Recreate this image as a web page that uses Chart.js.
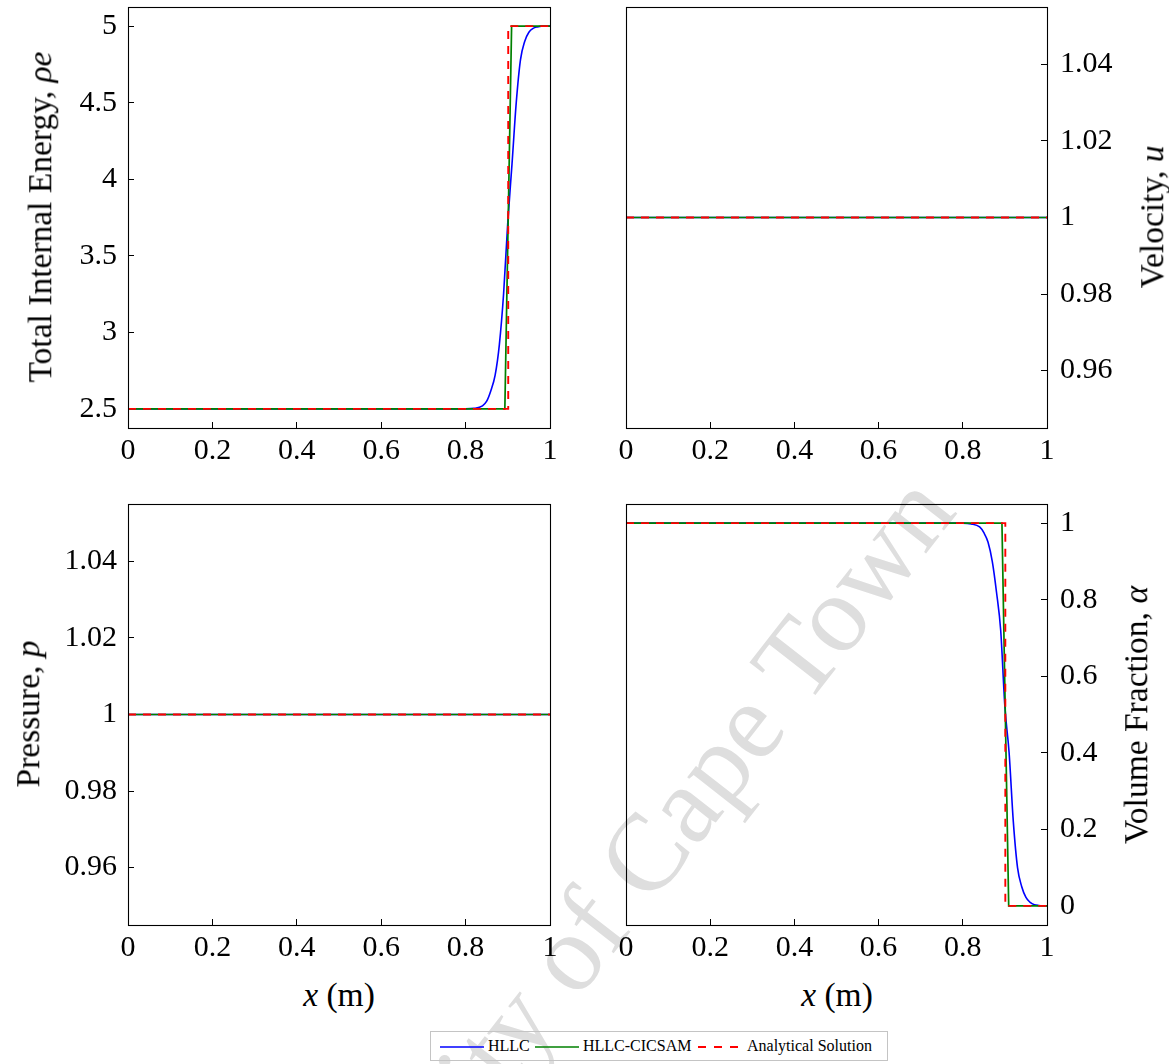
<!DOCTYPE html>
<html>
<head>
<meta charset="utf-8">
<script src="https://cdn.jsdelivr.net/npm/chart.js@4.4.0/dist/chart.umd.min.js"></script>
<style>
html,body{margin:0;padding:0;background:#fff;}
body{width:1169px;height:1064px;position:relative;overflow:hidden;font-family:"Liberation Serif","Times New Roman",serif;}
canvas{position:absolute;z-index:2;}
#wm{position:absolute;left:274px;top:1296px;font-size:110px;line-height:110px;height:110px;white-space:nowrap;color:rgb(222,222,222);transform-origin:0 92px;transform:rotate(-52deg);z-index:1;}
.t{position:absolute;white-space:nowrap;font-size:33.5px;line-height:1;color:#000;z-index:3;}
.rot{transform:translate(-50%,-50%) rotate(-90deg);}
.hor{transform:translate(-50%,-50%);}
#legend{position:absolute;left:430px;top:1031px;width:456px;height:28px;border:1px solid #c4c4c4;z-index:3;font-size:16px;color:#000;}
#legend .it{position:absolute;top:0;height:28px;line-height:28px;white-space:nowrap;}
#legend svg{position:absolute;top:0;}
</style>
</head>
<body>
<div id="wm">University of Cape Town</div>

<canvas id="cEnergy" width="600" height="480" style="left:0px;top:0px"></canvas>
<canvas id="cVelocity" width="579" height="480" style="left:590px;top:0px"></canvas>
<canvas id="cPressure" width="600" height="480" style="left:0px;top:490px"></canvas>
<canvas id="cAlpha" width="579" height="480" style="left:590px;top:490px"></canvas>

<div class="t rot" style="left:40px;top:217px">Total Internal Energy, <i>ρe</i></div>
<div class="t rot" style="left:1152px;top:217px">Velocity, <i>u</i></div>
<div class="t rot" style="left:28px;top:714px">Pressure, <i>p</i></div>
<div class="t rot" style="left:1136px;top:715px">Volume Fraction, <i>α</i></div>
<div class="t hor" style="left:339px;top:995px"><i>x</i> (m)</div>
<div class="t hor" style="left:837px;top:995px"><i>x</i> (m)</div>

<div id="legend">
  <svg width="456" height="28" style="left:0">
    <line x1="9" y1="15" x2="53" y2="15" stroke="#0000ff" stroke-width="1.6"/>
    <line x1="104" y1="15" x2="148" y2="15" stroke="#008000" stroke-width="1.6"/>
    <line x1="267" y1="15" x2="307" y2="15" stroke="#ff0000" stroke-width="1.8" stroke-dasharray="8,8"/>
  </svg>
  <div class="it" style="left:57px">HLLC</div>
  <div class="it" style="left:152px">HLLC-CICSAM</div>
  <div class="it" style="left:316px">Analytical Solution</div>
</div>

<script>
// ---- tick labels ----
const xTicks = [0, 0.2, 0.4, 0.6, 0.8, 1];
const energyTicks = [2.5, 3, 3.5, 4, 4.5, 5];
const velocityTicks = [0.96, 0.98, 1, 1.02, 1.04];
const pressureTicks = [0.96, 0.98, 1, 1.02, 1.04];
const alphaTicks = [0, 0.2, 0.4, 0.6, 0.8, 1];

// ---- series names ----
const seriesNames = ['HLLC', 'HLLC-CICSAM', 'Analytical Solution'];

// ---- HLLC ----
const hllcX = [0, 0.80, 0.82, 0.84, 0.85, 0.86, 0.87, 0.88, 0.89, 0.90, 0.91, 0.92, 0.93, 0.94, 0.95, 0.96, 0.97, 0.98, 1.0];
const hllcEnergy = [2.5, 2.5, 2.503, 2.52, 2.55, 2.62, 2.72, 2.92, 3.25, 3.72, 4.10, 4.50, 4.78, 4.90, 4.96, 4.985, 4.995, 5.0, 5.0];
const hllcAlpha = [1, 1, 0.998, 0.99, 0.975, 0.95, 0.90, 0.82, 0.72, 0.52, 0.40, 0.22, 0.10, 0.05, 0.022, 0.009, 0.003, 0.001, 0];
const hllcUniformX = [0, 1];
const hllcVelocity = [1, 1];
const hllcPressure = [1, 1];

// ---- HLLC-CICSAM ----
const cicsamX = [0, 0.893, 0.909, 1];
const cicsamEnergy = [2.5, 2.5, 5, 5];
const cicsamAlpha = [1, 1, 0, 0];
const cicsamUniformX = [0, 1];
const cicsamVelocity = [1, 1];
const cicsamPressure = [1, 1];

// ---- Analytical ----
const exactX = [0, 0.901, 0.901, 1];
const exactEnergy = [2.5, 2.5, 5, 5];
const exactAlpha = [1, 1, 0, 0];
const exactUniformX = [0, 1];
const exactVelocity = [1, 1];
const exactPressure = [1, 1];

const FONT = '"Liberation Serif","Times New Roman",serif';

function pts(xs, ys) { return xs.map((x, i) => ({x: x, y: ys[i]})); }

const framePlugin = {
  id: 'frame',
  afterDraw(chart) {
    const a = chart.chartArea, ctx = chart.ctx;
    ctx.save();
    ctx.strokeStyle = '#000';
    ctx.lineWidth = 1.1;
    ctx.strokeRect(Math.round(a.left) + 0.5, Math.round(a.top) + 0.5,
                   Math.round(a.right - a.left), Math.round(a.bottom - a.top));
    ctx.restore();
  }
};

function makeChart(id, cfg) {
  const datasets = [
    {label: seriesNames[0], data: pts(cfg.hx, cfg.hy), borderColor: '#0000ff', borderWidth: 1.6,
     pointRadius: 0, cubicInterpolationMode: 'monotone', order: 2},
    {label: seriesNames[1], data: pts(cfg.cx, cfg.cy), borderColor: '#008000', borderWidth: 1.7,
     pointRadius: 0, tension: 0, order: 1},
    {label: seriesNames[2], data: pts(cfg.ex, cfg.ey), borderColor: '#ff0000', borderWidth: 1.9,
     borderDash: [8, 7], pointRadius: 0, tension: 0, order: 0}
  ];
  const tickFont = {family: FONT, size: 30, lineHeight: 1.2};
  return new Chart(document.getElementById(id), {
    type: 'line',
    data: {datasets: datasets},
    plugins: [framePlugin],
    options: {
      responsive: false,
      animation: false,
      events: [],
      layout: {padding: cfg.pad},
      plugins: {legend: {display: false}, tooltip: {enabled: false}, title: {display: false}},
      scales: {
        x: {
          type: 'linear', position: 'bottom', min: 0, max: 1,
          border: {display: false},
          grid: {display: true, drawOnChartArea: false, drawTicks: true, tickLength: -6, color: '#000', lineWidth: 1},
          ticks: {font: tickFont, color: '#000', padding: 11, maxRotation: 0, autoSkip: false,
                  callback: (v) => String(v)},
          afterBuildTicks: (s) => { s.ticks = xTicks.map(v => ({value: v})); },
          afterFit: (s) => { s.height = cfg.xh; s.paddingLeft = 0; s.paddingRight = 0; s.paddingTop = 0; s.paddingBottom = 0; }
        },
        y: {
          type: 'linear', position: cfg.ypos, min: cfg.ymin, max: cfg.ymax,
          border: {display: false},
          grid: {display: true, drawOnChartArea: false, drawTicks: true, tickLength: -6, color: '#000', lineWidth: 1},
          ticks: {font: tickFont, color: '#000', padding: cfg.ypos === 'left' ? 17 : 19, autoSkip: false,
                  callback: (v) => String(v)},
          afterBuildTicks: (s) => { s.ticks = cfg.yt.map(v => ({value: v})); },
          afterFit: (s) => { s.width = cfg.yw; s.paddingLeft = 0; s.paddingRight = 0; s.paddingTop = 0; s.paddingBottom = 0; }
        }
      }
    }
  });
}

makeChart('cEnergy', {
  hx: hllcX, hy: hllcEnergy, cx: cicsamX, cy: cicsamEnergy, ex: exactX, ey: exactEnergy,
  ymin: 2.375, ymax: 5.125, yt: energyTicks, ypos: 'left', yw: 128, xh: 52,
  pad: {top: 7, left: 0, right: 50, bottom: 0}
});
makeChart('cVelocity', {
  hx: hllcUniformX, hy: hllcVelocity, cx: cicsamUniformX, cy: cicsamVelocity, ex: exactUniformX, ey: exactVelocity,
  ymin: 0.945, ymax: 1.055, yt: velocityTicks, ypos: 'right', yw: 122, xh: 52,
  pad: {top: 7, left: 36, right: 0, bottom: 0}
});
makeChart('cPressure', {
  hx: hllcUniformX, hy: hllcPressure, cx: cicsamUniformX, cy: cicsamPressure, ex: exactUniformX, ey: exactPressure,
  ymin: 0.945, ymax: 1.055, yt: pressureTicks, ypos: 'left', yw: 128, xh: 45,
  pad: {top: 14, left: 0, right: 50, bottom: 0}
});
makeChart('cAlpha', {
  hx: hllcX, hy: hllcAlpha, cx: cicsamX, cy: cicsamAlpha, ex: exactX, ey: exactAlpha,
  ymin: -0.05, ymax: 1.05, yt: alphaTicks, ypos: 'right', yw: 122, xh: 45,
  pad: {top: 14, left: 36, right: 0, bottom: 0}
});
</script>
</body>
</html>
